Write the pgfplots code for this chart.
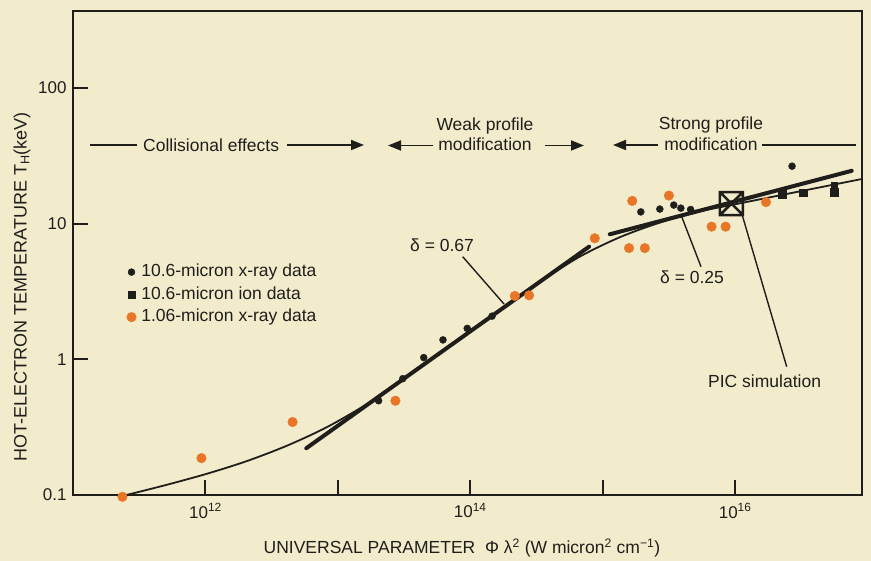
\documentclass[border=0pt]{standalone}
\usepackage{pgfplots}
\pgfplotsset{compat=1.18}
\usepackage{fontspec}
\setmainfont{Liberation Sans}
\usetikzlibrary{arrows.meta}
\definecolor{bg}{RGB}{242,236,205}
\definecolor{org}{RGB}{232,118,38}
\definecolor{ink}{RGB}{32,30,27}
\pgfdeclareplotmark{boxx}{%
  \pgfpathrectangle{\pgfpoint{-\pgfplotmarksize}{-\pgfplotmarksize}}{\pgfpoint{2\pgfplotmarksize}{2\pgfplotmarksize}}%
  \pgfpathmoveto{\pgfpoint{-\pgfplotmarksize}{-\pgfplotmarksize}}\pgfpathlineto{\pgfpoint{\pgfplotmarksize}{\pgfplotmarksize}}%
  \pgfpathmoveto{\pgfpoint{-\pgfplotmarksize}{\pgfplotmarksize}}\pgfpathlineto{\pgfpoint{\pgfplotmarksize}{-\pgfplotmarksize}}%
  \pgfusepathqstroke}
\begin{document}
\begin{tikzpicture}
\begin{scope}[x=1pt,y=-1pt,shift={(-73pt,495pt)}]
\path[use as bounding box] (0,0) rectangle (871,561);
\fill[bg] (0,0) rectangle (871,561);
\end{scope}
\begin{axis}[at={(0,0)},anchor=south west,scale only axis,width=789pt,height=484pt,
  xmode=log,ymode=log,xmin=1e11,xmax=9.08e16,ymin=0.1,ymax=369,
  clip=false,
  axis line style={line width=2.5pt,draw=ink},
  tick align=inside,major tick length=15pt,
  tick style={line width=2pt,draw=ink},
  xtick pos=bottom,ytick pos=left,
  xminorticks=false,yminorticks=false,
  xtick={1e12,1e13,1e14,1e15,1e16},
  xticklabels={10\textsuperscript{12},,10\textsuperscript{14},,10\textsuperscript{16}},
  ytick={0.1,1,10,100},
  yticklabels={0.1,1,10,100},
  ticklabel style={font=\fontsize{17}{19}\selectfont,text=ink},
  xticklabel style={yshift=-5pt},
  yticklabel style={xshift=-3pt},
  legend style={at={(0.064,0.414)},anchor=west,draw=none,fill=none,
    font=\fontsize{17.5}{20}\selectfont,text=ink,row sep=3.5pt,
    nodes={inner sep=1pt,text height=13pt,text depth=4pt},
    /tikz/every odd column/.append style={column sep=4pt}},
  legend cell align=left,
]
% thin fitted curve
\addplot[forget plot,ink,line width=1.8pt,smooth,tension=0.5] coordinates {
(2.53e11,0.100) (5.07e11,0.1187) (1.018e12,0.1431) (2.04e12,0.1774) (4.09e12,0.2300)
(8.22e12,0.3154) (1.648e13,0.4653) (2.46e13,0.6050) (6.99e13,1.251) (1.985e14,2.587)
(3.35e14,3.719) (6.72e14,5.713) (1.347e15,7.94) (2.70e15,10.17) (5.42e15,12.32)
(9.30e15,13.69) (3.09e16,17.30) (9.08e16,21.33)};
% delta = 0.67
\addplot[forget plot,ink,line width=4pt,line cap=round] coordinates {(5.77e12,0.221) (7.89e14,6.76)};
% delta = 0.25
\addplot[forget plot,ink,line width=4pt,line cap=round] coordinates {(1.13e15,8.34) (7.59e16,24.5)};
% 10.6 micron x-ray
\addplot[only marks,mark=*,mark size=3.5pt,color=ink] coordinates {
(2.03e13,0.495) (3.09e13,0.72) (4.45e13,1.03) (6.22e13,1.39) (9.48e13,1.69) (1.46e14,2.08)
(1.94e15,12.2) (2.70e15,12.8) (3.44e15,13.7) (3.89e15,13.0) (4.61e15,12.7) (2.69e16,26.5)};
\addlegendentry{10.6-micron x-ray data}
% 10.6 micron ion
\addplot[only marks,mark=square*,mark size=3.8pt,color=ink] coordinates {
(2.27e16,16.4) (3.27e16,16.9) (5.58e16,17.1)};
\addlegendentry{10.6-micron ion data}
% 1.06 micron x-ray
\addplot[only marks,mark=*,mark size=4.8pt,color=org] coordinates {
(2.36e11,0.097) (9.33e11,0.187) (4.55e12,0.345) (2.72e13,0.495) (2.17e14,2.93) (2.78e14,2.96)
(8.71e14,7.8) (1.67e15,14.7) (3.16e15,16.1) (6.64e15,9.5) (8.47e15,9.5) (1.58e15,6.6)
(2.08e15,6.6) (1.71e16,14.4)};
\addlegendentry{1.06-micron x-ray data}
% second ion point (stacked)
\addplot[forget plot,only marks,mark=square*,mark size=2.8pt,color=ink] coordinates {(5.58e16,19.3)};
% PIC simulation
\addplot[forget plot,only marks,mark=boxx,mark size=11.5pt,color=ink,line width=2.5pt] coordinates {(9.38e15,14.06)};
\end{axis}
\begin{scope}[x=1pt,y=-1pt,shift={(-73pt,495pt)},
  every node/.style={font=\fontsize{17.5}{20}\selectfont,text=ink,inner sep=0pt},
  arr/.style={ink,line width=1.8pt,-{Triangle[length=13pt,width=10pt]}}]
% Collisional effects
\draw[ink,line width=1.8pt] (90,145) -- (137,145);
\node[anchor=base west] at (143,151.5) {Collisional effects};
\draw[arr] (287,145) -- (364,145);
% Weak profile modification
\draw[arr] (433,145.5) -- (388,145.5);
\node[anchor=base] at (485,131) {Weak profile};
\node[anchor=base] at (485,151) {modification};
\draw[arr] (545,145.5) -- (584,145.5);
% Strong profile modification
\draw[arr] (658,145) -- (613,145);
\node[anchor=base] at (711,130) {Strong profile};
\node[anchor=base] at (711,151) {modification};
\draw[ink,line width=1.8pt] (762,145) -- (856,145);
% delta labels
\node[anchor=base west] at (410,251.7) {δ = 0.67};
\draw[ink,line width=1.4pt] (462.7,256.7) -- (504,304);
\node[anchor=base west] at (660,284) {δ = 0.25};
\draw[ink,line width=1.4pt] (681.7,216.7) -- (701,266.7);
\node[anchor=base west] at (708,388) {PIC simulation};
\draw[ink,line width=1.4pt] (741.7,213.3) -- (786.7,366.7);
% axis labels
\node[rotate=90,font=\fontsize{18}{20}\selectfont] at (22,287) {HOT-ELECTRON TEMPERATURE T\textsubscript{H}(keV)};
\node[anchor=base] at (462,554) {UNIVERSAL PARAMETER\ \ Φ λ\textsuperscript{2} (W micron\textsuperscript{2} cm\textsuperscript{−1})};
\end{scope}
\end{tikzpicture}
\end{document}
